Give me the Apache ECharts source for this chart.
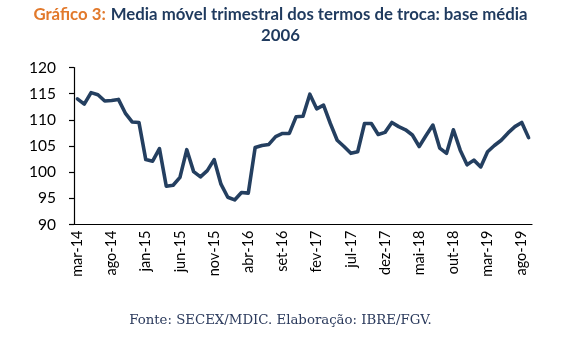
<!DOCTYPE html>
<html><head><meta charset="utf-8">
<script src="https://cdn.jsdelivr.net/npm/echarts@6/dist/echarts.min.js"></script>
<style>html,body{margin:0;padding:0;background:#fff}#c{width:561px;height:342px}</style>
</head><body><div id="c"></div>
<script>
const months = ['jan','fev','mar','abr','mai','jun','jul','ago','set','out','nov','dez'];
const startYear = 2014, startMonth = 2, nPoints = 67;
const categories = [];
for (let i = 0; i < nPoints; i++) {
  const m = startMonth + i;
  categories.push(months[m % 12] + '-' + String((startYear + Math.floor(m / 12)) % 100).padStart(2, '0'));
}
const termsOfTrade = [
  114.0, 113.0, 115.2, 114.8, 113.6, 113.7, 113.9, 111.3, 109.6, 109.5,
  102.4, 102.1, 104.5, 97.3, 97.5, 99.0, 104.3, 100.1, 99.1, 100.3,
  102.4, 97.7, 95.2, 94.7, 96.1, 96.0, 104.7, 105.1, 105.3, 106.8,
  107.4, 107.4, 110.6, 110.7, 114.9, 112.1, 112.8, 109.3, 106.1, 104.9,
  103.6, 103.9, 109.3, 109.3, 107.2, 107.6, 109.5, 108.7, 108.1, 107.1,
  104.9, 107.0, 109.0, 104.6, 103.6, 108.1, 104.2, 101.4, 102.3, 101.0,
  103.9, 105.1, 106.1, 107.5, 108.7, 109.5, 106.6
];
const yTicks = [90, 95, 100, 105, 110, 115, 120];

const titleFont = {fontFamily: 'Lato', fontWeight: 'bold', fontSize: 16.8};
const chart = echarts.init(document.getElementById('c'), null, {renderer: 'canvas'});
chart.setOption({
  animation: false,
  backgroundColor: '#ffffff',
  title: [{
    text: '{o|Gráfico 3:} {b|Media móvel trimestral dos termos de troca: base média}',
    left: 'center', top: 6, padding: 0,
    textStyle: {
      rich: {
        o: Object.assign({color: '#E2792B'}, titleFont),
        b: Object.assign({color: '#1F3A5E'}, titleFont)
      }
    }
  }, {
    text: '2006',
    left: 'center', top: 27, padding: 0,
    textStyle: Object.assign({color: '#1F3A5E'}, titleFont)
  }, {
    text: 'Fonte: SECEX/MDIC. Elaboração: IBRE/FGV.',
    left: 'center', top: 314, padding: 0,
    textStyle: {color: '#2B3A5C', fontFamily: 'DejaVu Serif', fontWeight: 'normal', fontSize: 13.3}
  }],
  grid: {left: 74, right: 29, top: 67.5, bottom: 117.5, containLabel: false},
  xAxis: {
    type: 'category', data: categories, boundaryGap: true,
    axisLine: {lineStyle: {color: '#000', width: 1.2}},
    axisTick: {interval: 4, length: 5, lineStyle: {color: '#000', width: 1.2}},
    axisLabel: {interval: 4, rotate: 90, color: '#000', fontFamily: 'Lato', fontSize: 14.5, margin: 6}
  },
  yAxis: {
    type: 'value', min: yTicks[0], max: yTicks[yTicks.length - 1], interval: 5,
    axisLine: {show: true, lineStyle: {color: '#000', width: 1.2}},
    axisTick: {show: true, length: 5, lineStyle: {color: '#000', width: 1.2}},
    splitLine: {show: false},
    axisLabel: {color: '#000', fontFamily: 'Lato', fontSize: 15.5, margin: 18}
  },
  series: [{
    type: 'line', data: termsOfTrade, showSymbol: false, symbol: 'none',
    lineStyle: {color: '#243F60', width: 3.6, join: 'round', cap: 'round'}
  }]
});
</script></body></html>
